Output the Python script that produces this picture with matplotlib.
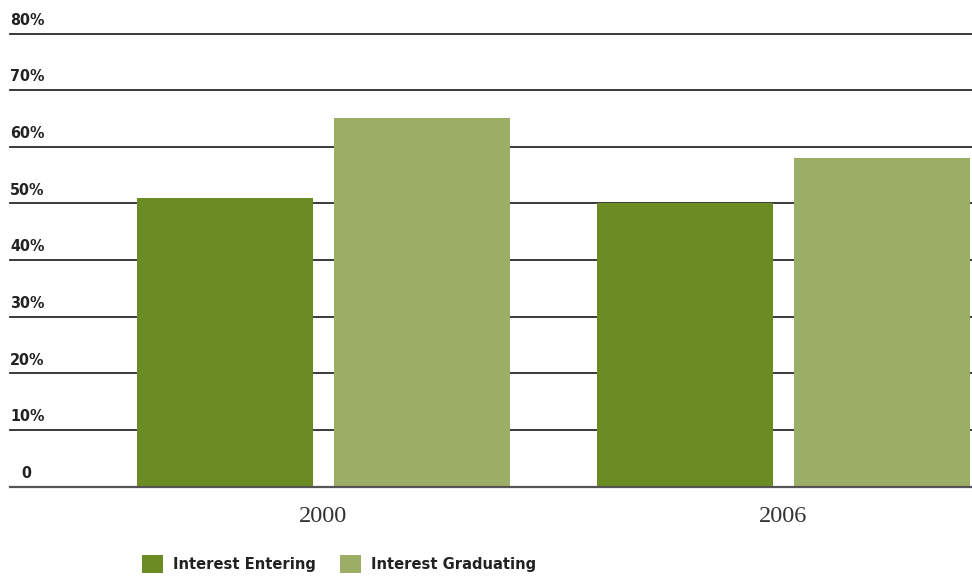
import matplotlib.pyplot as plt
import numpy as np

# Share of students interested, by cohort year
years = ["2000", "2006"]
entering = [51, 50]
graduating = [65, 58]
series_names = ["Interest Entering", "Interest Graduating"]
y_ticks = [0, 10, 20, 30, 40, 50, 60, 70, 80]
y_labels = ["0", "10%", "20%", "30%", "40%", "50%", "60%", "70%", "80%"]

dark_green = "#6b8c22"
light_green = "#9cad66"
label_font = {"family": "DejaVu Sans", "stretch": "condensed", "weight": "bold"}
year_font = ["Liberation Serif", "DejaVu Serif"]

fig = plt.figure(figsize=(9.72, 5.76), dpi=100)
ax = fig.add_axes([10/972, (576-486.7)/576, 962/972, (486.7-33.5)/576])

x = np.arange(len(years))
width = 0.3826
offset = 0.214
b1 = ax.bar(x - offset, entering, width, color=dark_green, zorder=3, label=series_names[0])
b2 = ax.bar(x + offset, graduating, width, color=light_green, zorder=3, label=series_names[1])

ax.set_ylim(0, 80)
ax.set_xlim(-0.6815, 1.41)

# horizontal rules at every 10%
for t in y_ticks[1:]:
    ax.axhline(t, color="#2b2b2b", lw=1.3, zorder=1, clip_on=False)
ax.axhline(0, color="#555555", lw=1.6, zorder=4, clip_on=False)

for s in ax.spines.values():
    s.set_visible(False)
ax.set_yticks([])
ax.set_xticks([])

# tick labels sit just above their rule
for t, lab in zip(y_ticks, y_labels):
    xpos = 0.0115 if t == 0 else 0.0
    ax.text(xpos, t + 1.0, lab, transform=ax.get_yaxis_transform(), ha="left", va="bottom",
            fontsize=11.5, color="#222222", **label_font)

for xi, yr in zip(x, years):
    ax.text(xi, -3.4, yr, ha="center", va="top", family=year_font, fontsize=17.5,
            color="#333333")

leg = fig.legend(handles=[b1, b2], labels=series_names, loc="lower left",
                 bbox_to_anchor=(132/972, -0.011), ncol=2, frameon=False,
                 handlelength=1.3, handleheight=1.3, handletextpad=0.6,
                 columnspacing=1.45, borderaxespad=0.2,
                 prop={**label_font, "size": 11.8})
for txt in leg.get_texts():
    txt.set_color("#222222")

fig.savefig("out.png", dpi=100)
